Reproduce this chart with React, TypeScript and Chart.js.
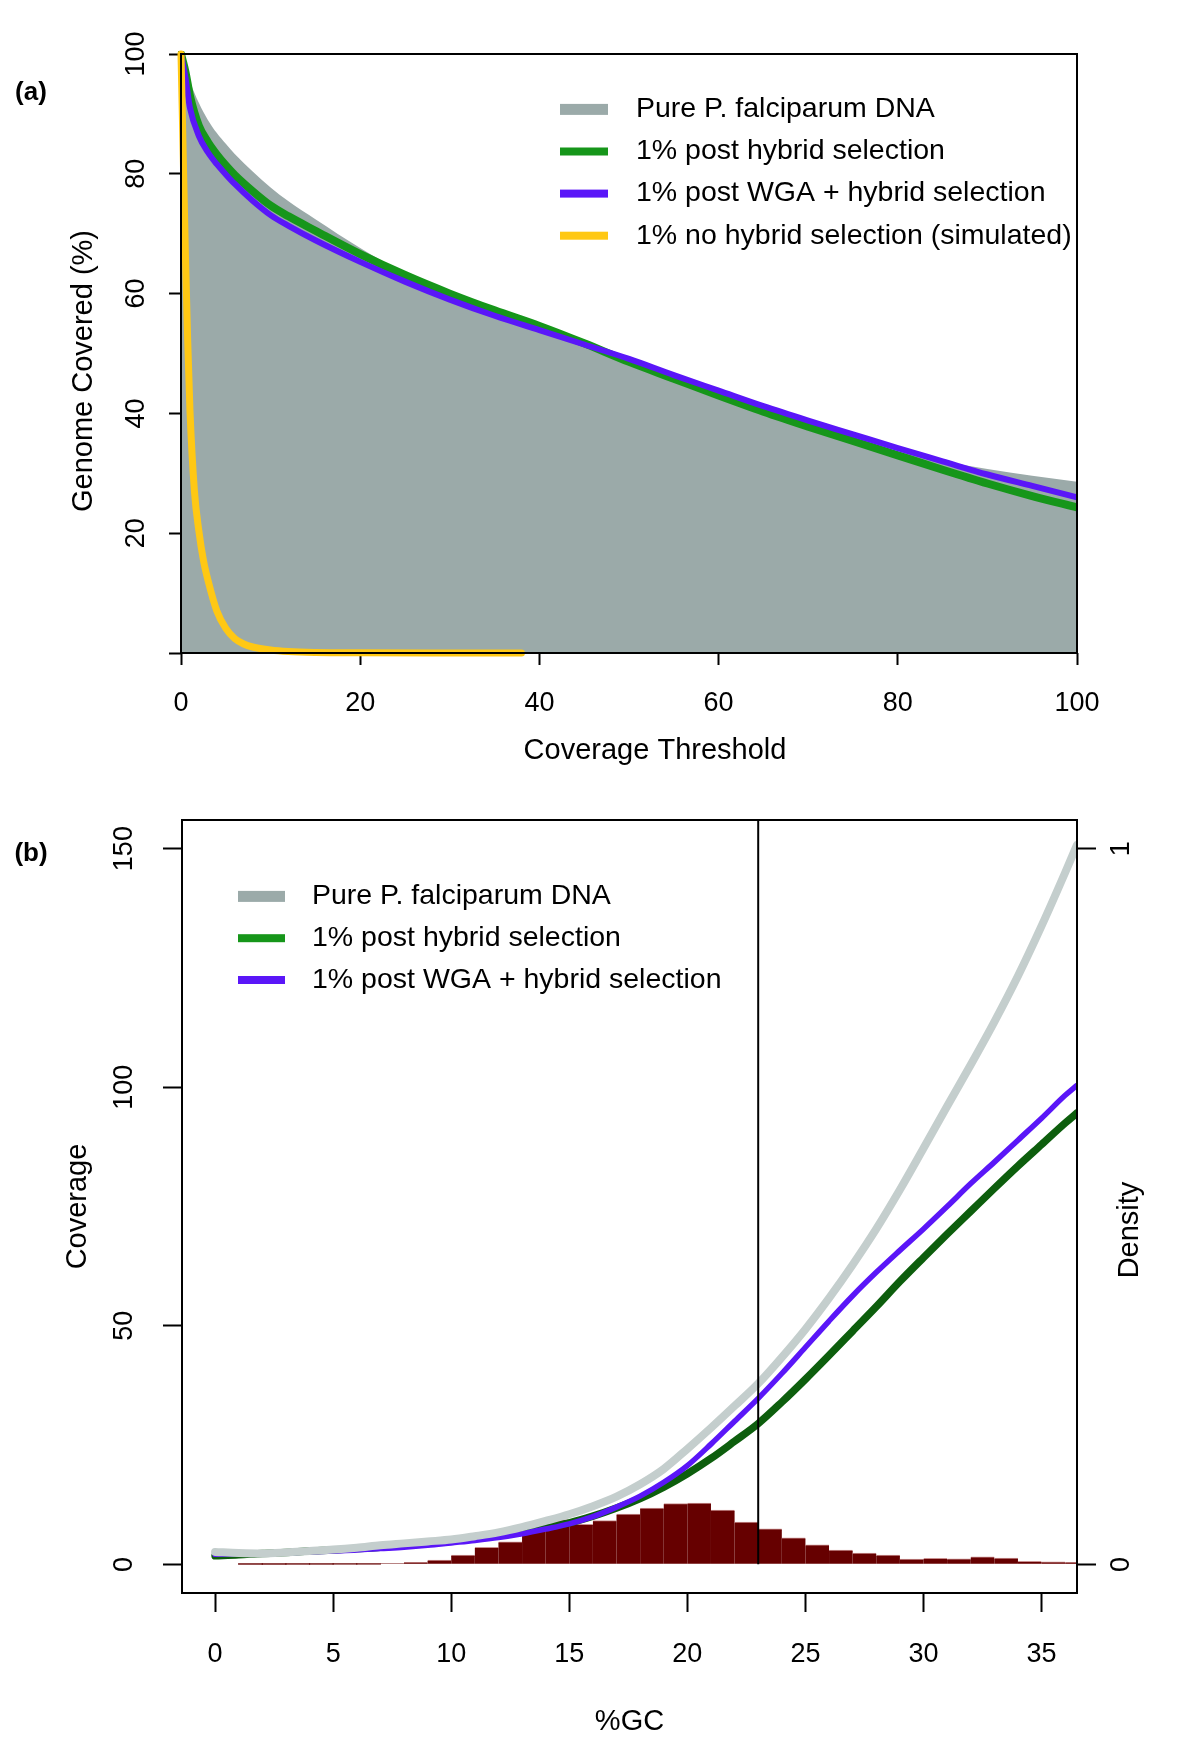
import React, { useEffect, useRef } from 'react';
import { Chart, registerables } from 'chart.js';

Chart.register(...registerables);

const FONT = '"Liberation Sans", Arial, Helvetica, sans-serif';

// ---------------- Panel (a): genome covered vs coverage threshold ----------------
const thresholds = [0, 0.5, 1, 2, 3, 4, 5, 6, 8, 10, 12, 15, 20, 25, 30, 35, 40, 45, 50, 55, 60, 65, 70, 75, 80, 85, 90, 95, 100];
const pureCovered = [100, 98.2, 95.5, 91.8, 89, 86.8, 85, 83.3, 80.4, 77.7, 75.4, 72.4, 67.6, 63.4, 60.1, 57.2, 54.4, 51.4, 48.4, 45.5, 42.8, 40.2, 37.8, 35.6, 33.7, 32.1, 30.7, 29.6, 28.6];
const postHybridCovered = [100, 97, 93, 88, 85.3, 83.2, 81.4, 79.8, 77.1, 74.7, 72.9, 70.5, 66.6, 63.1, 60, 57.2, 54.6, 51.7, 48.6, 45.8, 43, 40.3, 37.8, 35.4, 33, 30.6, 28.3, 26.2, 24.3];
const postWgaCovered = [100, 96, 91, 86.3, 83.6, 81.6, 79.9, 78.3, 75.5, 73.1, 71.3, 68.9, 65.3, 62, 59, 56.3, 53.9, 51.5, 49.1, 46.4, 43.8, 41.2, 38.8, 36.5, 34.2, 32, 29.8, 27.9, 26];
const noHybridThresholds = [0, 0.25, 0.5, 0.75, 1, 1.5, 2, 2.5, 3, 4, 5, 6, 7, 8, 10, 12, 15, 20, 30, 38];
const noHybridCovered = [100, 83, 66, 52, 40.5, 27, 20.3, 15.5, 12.2, 7, 4.1, 2.4, 1.5, 1, 0.5, 0.25, 0.1, 0.03, 0, 0];
const thresholdTicks = [0, 20, 40, 60, 80, 100];
const coveredTicks = [0, 20, 40, 60, 80, 100];
const legendA = [
  'Pure P. falciparum DNA',
  '1% post hybrid selection',
  '1% post WGA + hybrid selection',
  '1% no hybrid selection (simulated)',
];

// ---------------- Panel (b): coverage vs %GC ----------------
const gcPercent = [0, 1, 2, 3, 4, 5, 6, 7, 8, 9, 10, 11, 12, 13, 14, 15, 16, 17, 18, 19, 20, 21, 22, 23, 24, 25, 26, 27, 28, 29, 30, 31, 32, 33, 34, 35, 36, 36.5];
const pureGcCoverage = [2.6, 2.4, 2.3, 2.5, 2.8, 3.1, 3.5, 4.0, 4.4, 4.8, 5.2, 5.9, 6.7, 7.8, 9.1, 10.5, 12.2, 14.2, 16.8, 20.0, 24.2, 28.6, 33.2, 37.9, 43.4, 49.3, 55.8, 62.8, 70.3, 78.5, 87.2, 96, 104.7, 113.7, 123.3, 133.8, 145, 150.8];
const postHybridGcCoverage = [1.8, 2.0, 2.3, 2.5, 2.8, 3.0, 3.3, 3.6, 4.0, 4.5, 5.0, 5.5, 6.1, 6.8, 7.7, 8.7, 10.1, 11.8, 13.8, 16.2, 19.0, 22.2, 25.8, 29.5, 34, 38.8, 43.8, 48.9, 54, 59.3, 64.3, 69.2, 74, 78.8, 83.5, 88, 92.5, 94.6];
const postWgaGcCoverage = [2.1, 2.2, 2.3, 2.4, 2.6, 2.8, 3.0, 3.3, 3.6, 4.0, 4.5, 5.0, 5.6, 6.4, 7.4, 8.5, 10.0, 12.0, 14.3, 17.2, 20.7, 25.2, 30, 34.8, 40, 45.5, 51, 56.3, 61.2, 65.8, 70.3, 75, 79.8, 84.3, 88.9, 93.5, 98.3, 100.4];
const gcBinStart = [1, 2, 3, 4, 5, 6, 7, 8, 9, 10, 11, 12, 13, 14, 15, 16, 17, 18, 19, 20, 21, 22, 23, 24, 25, 26, 27, 28, 29, 30, 31, 32, 33, 34, 35, 36];
const gcDensity = [0.0004, 0.0004, 0.0005, 0.0005, 0.0006, 0.0006, 0.0008, 0.0024, 0.0056, 0.0126, 0.0234, 0.031, 0.0458, 0.0623, 0.0557, 0.0609, 0.070, 0.0784, 0.0847, 0.0854, 0.0756, 0.0588, 0.0494, 0.0368, 0.027, 0.0196, 0.0154, 0.0126, 0.007, 0.008, 0.0074, 0.0102, 0.0084, 0.0038, 0.0032, 0.0024];
const gcTicks = [0, 5, 10, 15, 20, 25, 30, 35];
const coverageTicks = [0, 50, 100, 150];
const densityTicks = [0, 1];
const gcCutoff = 23;
const legendB = ['Pure P. falciparum DNA', '1% post hybrid selection', '1% post WGA + hybrid selection'];

const COLORS = {
  pureFill: '#9BAAA9',
  green: '#16961A',
  blue: '#5A16F8',
  yellow: '#FFC814',
  pureLineB: '#C4CECD',
  greenB: '#0D5E0D',
  hist: '#660000',
  histEdge: '#C98F8F',
};

const toXY = (xs: number[], ys: number[]) => xs.map((x, i) => ({ x, y: ys[i] }));

const tickFont = { family: FONT, size: 27 };

function axisBase(values: number[], tickLength: number) {
  return {
    offset: false,
    afterBuildTicks: (scale: any) => {
      scale.ticks = values.map((value) => ({ value }));
    },
    grid: {
      display: true,
      offset: false,
      drawOnChartArea: false,
      drawTicks: true,
      tickLength,
      tickWidth: 2,
      tickColor: '#000',
    },
    border: { display: false },
  };
}

// fix the axis box size and drop the automatic edge padding so the plot box sits where it should
function fixSize(prop: 'width' | 'height', size: number) {
  return (s: any) => {
    s[prop] = size;
    s.paddingTop = 0;
    s.paddingBottom = 0;
    s.paddingLeft = 0;
    s.paddingRight = 0;
  };
}

function drawText(
  ctx: CanvasRenderingContext2D,
  text: string,
  x: number,
  y: number,
  font: string,
  align: CanvasTextAlign = 'left',
  rotate = 0
) {
  ctx.save();
  ctx.translate(x, y);
  if (rotate) ctx.rotate(rotate);
  ctx.font = font;
  ctx.fillStyle = '#000';
  ctx.textAlign = align;
  ctx.textBaseline = 'middle';
  ctx.fillText(text, 0, 0);
  ctx.restore();
}

function drawLegend(
  ctx: CanvasRenderingContext2D,
  labels: string[],
  colors: string[],
  thickness: number[],
  y0: number,
  dy: number,
  x0: number,
  x1: number,
  tx: number
) {
  labels.forEach((label, i) => {
    const y = y0 + i * dy;
    ctx.fillStyle = colors[i];
    ctx.fillRect(x0, y - thickness[i] / 2, x1 - x0, thickness[i]);
    drawText(ctx, label, tx, y, `28.5px ${FONT}`, 'left');
  });
}

const panelAPlugin = {
  id: 'panelADecor',
  afterDraw(chart: any) {
    const { ctx, chartArea: a } = chart;
    ctx.save();
    ctx.strokeStyle = '#000';
    ctx.lineWidth = 2;
    ctx.strokeRect(a.left, a.top, a.right - a.left, a.bottom - a.top);
    ctx.restore();
    drawText(ctx, '(a)', 31, 93, `bold 26px ${FONT}`, 'center');
    drawText(ctx, 'Coverage Threshold', 655, 751, `29px ${FONT}`, 'center');
    drawText(ctx, 'Genome Covered (%)', 84, 371, `29px ${FONT}`, 'center', -Math.PI / 2);
    drawLegend(
      ctx,
      legendA,
      [COLORS.pureFill, COLORS.green, COLORS.blue, COLORS.yellow],
      [11, 8, 8, 8],
      109.4,
      42.1,
      560,
      608,
      636
    );
  },
};

const panelBPlugin = {
  id: 'panelBDecor',
  afterDraw(chart: any) {
    const { ctx, chartArea: a } = chart;
    ctx.save();
    ctx.strokeStyle = '#000';
    ctx.lineWidth = 2;
    ctx.strokeRect(a.left, a.top, a.right - a.left, a.bottom - a.top);
    ctx.restore();
    drawText(ctx, '(b)', 31, 54, `bold 26px ${FONT}`, 'center');
    drawText(ctx, 'Density', 1130, 430, `29px ${FONT}`, 'center', -Math.PI / 2);
    drawLegend(
      ctx,
      legendB,
      [COLORS.pureFill, COLORS.green, COLORS.blue],
      [11, 8, 8],
      96.4,
      41.8,
      238,
      285,
      312
    );
  },
};

function configA(): any {
  return {
    type: 'line',
    data: {
      datasets: [
        {
          label: legendA[3],
          data: toXY(noHybridThresholds, noHybridCovered),
          borderColor: COLORS.yellow,
          borderWidth: 7,
          fill: false,
          clip: { left: 6, top: 6, right: 0, bottom: 8 },
        },
        {
          label: legendA[2],
          data: toXY(thresholds, postWgaCovered),
          borderColor: COLORS.blue,
          borderWidth: 6,
          fill: false,
          clip: { left: 3, top: 3, right: 0, bottom: 0 },
        },
        {
          label: legendA[1],
          data: toXY(thresholds, postHybridCovered),
          borderColor: COLORS.green,
          borderWidth: 8,
          fill: false,
          clip: { left: 3, top: 3, right: 0, bottom: 0 },
        },
        {
          label: legendA[0],
          data: toXY(thresholds, pureCovered),
          borderColor: 'rgba(0,0,0,0)',
          borderWidth: 0,
          backgroundColor: COLORS.pureFill,
          fill: 'origin',
        },
      ],
    },
    options: {
      responsive: false,
      animation: false,
      devicePixelRatio: 1,
      layout: { padding: { left: 0, top: 54, right: 123, bottom: 0 } },
      plugins: { legend: { display: false }, tooltip: { enabled: false } },
      elements: {
        point: { radius: 0, hoverRadius: 0 },
        line: { cubicInterpolationMode: 'monotone', borderCapStyle: 'round', borderJoinStyle: 'round' },
      },
      scales: {
        x: {
          type: 'linear',
          min: 0,
          max: 100,
          ...axisBase(thresholdTicks, 12),
          ticks: { font: tickFont, color: '#000', padding: 22.8, autoSkip: false, minRotation: 0, maxRotation: 0, callback: (v: number) => String(v) },
          afterFit: fixSize('height', 147),
        },
        y: {
          type: 'linear',
          min: 0,
          max: 100,
          ...axisBase(coveredTicks, 12),
          ticks: {
            font: tickFont,
            color: '#000',
            padding: 9.5,
            autoSkip: false,
            minRotation: 90,
            maxRotation: 90,
            crossAlign: 'center',
            callback: (v: number) => (v === 0 ? '' : String(v)),
          },
          afterFit: fixSize('width', 181),
        },
      },
    },
    plugins: [panelAPlugin],
  };
}

function configB(): any {
  return {
    type: 'line',
    data: {
      datasets: [
        {
          label: 'cutoff',
          data: [
            { x: gcCutoff, y: 0 },
            { x: gcCutoff, y: 156 },
          ],
          borderColor: '#000',
          borderWidth: 2,
          tension: 0,
          cubicInterpolationMode: 'default',
          borderCapStyle: 'butt',
          yAxisID: 'y',
        },
        {
          label: legendB[0],
          data: toXY(gcPercent, pureGcCoverage),
          borderColor: COLORS.pureLineB,
          borderWidth: 8,
          fill: false,
          yAxisID: 'y',
        },
        {
          label: legendB[2],
          data: toXY(gcPercent, postWgaGcCoverage),
          borderColor: COLORS.blue,
          borderWidth: 5.5,
          fill: false,
          yAxisID: 'y',
        },
        {
          label: legendB[1],
          data: toXY(gcPercent, postHybridGcCoverage),
          borderColor: COLORS.greenB,
          borderWidth: 7.5,
          fill: false,
          yAxisID: 'y',
        },
        {
          type: 'bar',
          label: 'GC density',
          data: toXY(
            gcBinStart.map((b) => b + 0.5),
            gcDensity
          ),
          backgroundColor: COLORS.hist,
          borderColor: COLORS.histEdge,
          borderWidth: { top: 1, left: 0, right: 0, bottom: 0 },
          borderSkipped: 'start',
          inflateAmount: 0.6,
          barPercentage: 1,
          categoryPercentage: 1,
          yAxisID: 'y2',
        },
      ],
    },
    options: {
      responsive: false,
      animation: false,
      devicePixelRatio: 1,
      layout: { padding: { left: 0, top: 20, right: 0, bottom: 0 } },
      plugins: { legend: { display: false }, tooltip: { enabled: false } },
      elements: {
        point: { radius: 0, hoverRadius: 0 },
        line: { cubicInterpolationMode: 'monotone', borderCapStyle: 'round', borderJoinStyle: 'round' },
      },
      scales: {
        x: {
          type: 'linear',
          min: -1.4,
          max: 36.5,
          ...axisBase(gcTicks, 19),
          ticks: { font: tickFont, color: '#000', padding: 26.8, autoSkip: false, minRotation: 0, maxRotation: 0, callback: (v: number) => String(v) },
          title: {
            display: true,
            text: '%GC',
            color: '#000',
            font: { family: FONT, size: 29 },
            padding: { top: 0, bottom: 11.6 },
          },
          afterFit: fixSize('height', 158),
        },
        y: {
          type: 'linear',
          position: 'left',
          min: -6,
          max: 156,
          ...axisBase(coverageTicks, 19),
          ticks: {
            font: tickFont,
            color: '#000',
            padding: 15.5,
            autoSkip: false,
            minRotation: 90,
            maxRotation: 90,
            crossAlign: 'center',
            callback: (v: number) => String(v),
          },
          title: {
            display: true,
            text: 'Coverage',
            color: '#000',
            font: { family: FONT, size: 29 },
            padding: { top: 60.6, bottom: 0 },
          },
          afterFit: fixSize('width', 182),
        },
        y2: {
          type: 'linear',
          position: 'right',
          min: -0.04,
          max: 1.04,
          ...axisBase(densityTicks, 19),
          ticks: {
            font: tickFont,
            color: '#000',
            padding: 18.5,
            autoSkip: false,
            minRotation: 90,
            maxRotation: 90,
            crossAlign: 'center',
            callback: (v: number) => String(v),
          },
          afterFit: fixSize('width', 123),
        },
      },
    },
    plugins: [panelBPlugin],
  };
}

export default function App() {
  const refA = useRef<HTMLCanvasElement>(null);
  const refB = useRef<HTMLCanvasElement>(null);

  useEffect(() => {
    const chartA = new Chart(refA.current as HTMLCanvasElement, configA());
    const chartB = new Chart(refB.current as HTMLCanvasElement, configB());
    return () => {
      chartA.destroy();
      chartB.destroy();
    };
  }, []);

  return (
    <div style={{ position: 'absolute', left: 0, top: 0, width: 1200, height: 1751, background: '#fff' }}>
      <canvas
        ref={refA}
        width={1200}
        height={800}
        style={{ position: 'absolute', left: 0, top: 0, width: 1200, height: 800 }}
      />
      <canvas
        ref={refB}
        width={1200}
        height={951}
        style={{ position: 'absolute', left: 0, top: 800, width: 1200, height: 951 }}
      />
    </div>
  );
}
